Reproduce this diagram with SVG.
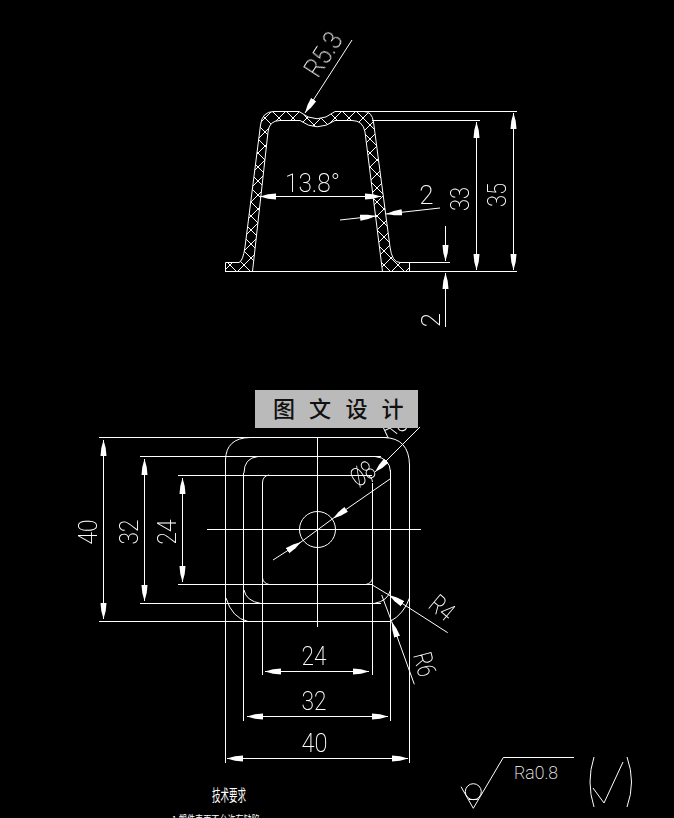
<svg xmlns="http://www.w3.org/2000/svg" width="674" height="818" viewBox="0 0 674 818">
<style>
.l{fill:none;stroke:#fff;stroke-width:1}
.d{fill:none;stroke:#fff;stroke-width:1;marker-end:url(#a);marker-start:url(#a)}
.e{fill:none;stroke:#fff;stroke-width:1;marker-end:url(#a)}
.t{font-family:Roboto,"Liberation Sans",sans-serif;font-weight:200;font-size:26px;fill:#fff;text-anchor:middle}
.s{font-size:18px}
.c{font-family:"Noto Sans CJK SC",sans-serif;fill:#fff}
.w{font-family:"Noto Sans CJK SC",sans-serif;font-size:22px;font-weight:500;fill:#111;text-anchor:middle}
</style>
<defs>
<marker id="a" markerUnits="userSpaceOnUse" markerWidth="18" markerHeight="8" refX="16" refY="4" orient="auto-start-reverse" viewBox="0 0 18 8"><path d="M0,1 L0,7 L8,6.200 L16,4 L8,1.800 Z" fill="#fff"/></marker>
<pattern id="h" patternUnits="userSpaceOnUse" x="286" y="111" width="14" height="14"><path d="M0,0L14,14M14,0L0,14" stroke="#fff" stroke-width="1" fill="none"/></pattern>
</defs>
<rect width="674" height="818" fill="#000"/>
<g id="section">
<path id="section-wall" d="M225.500,271.500 V262.500 H239 Q243,261 245,247 L260.500,125 Q262,111.500 274,111.500 H299 Q317,126 335,111.500 H364 Q372,111.500 373.500,122 L390,247 Q392,262.500 400,262.500 H409.500 V271.500 H382.500 L365,132 Q363,120.500 352,120.500 H335 Q317,133 300,120.500 H280 Q269,120.500 268,132 L252.500,271.500 Z" fill="url(#h)" stroke="#fff" stroke-width="1"/>
</g>
<g id="plan">
<path class="l" d="M225.500,465 V460 Q226,438 250,437.500 M384,437.500 Q409,438 409.500,465 M244,473 Q244,458 258,456.500 M375,456.500 Q390,458 390.500,472 M262.500,483 Q262.500,476 269,475 M366,475 Q372,476 372.500,482 M262.500,578 Q263,583 269,584.500 M372.500,578 Q372,583 366,584.500 M244,590 Q246,601 261,603.500 M390.500,590 Q388,601 374,603.500 M226,598 Q232,618 248,621.500 M409.500,598 Q404,614 390,621.500"/>
<circle class="l" cx="317.500" cy="529.500" r="18"/>
<path class="l" d="M207,529.500 H421 M317.500,438 V627"/>
</g>
<g id="connectors">
<path class="l" d="M225,271.500 H517 M335,111.500 H517 M372,120.500 H480 M409,262.500 H450"/>
<path class="d" d="M513.500,113 V270"/>
<path class="d" d="M476.500,122 V270"/>
<path class="e" d="M445.500,226 V261"/>
<path class="e" d="M445.500,327 V273"/>
<path class="d" d="M260,196.500 H381"/>
<path class="e" d="M340,220 L376,216"/>
<path class="e" d="M440,208 L386,214"/>
<path class="e" d="M352,40 L305,113"/>
<path class="l" d="M99,437.500 H387 M140,456.500 H381 M178,475.500 H372 M178,584.500 H372 M140,603.500 H381 M99,621.500 H390"/>
<path class="l" d="M225.500,465 V763 M243.500,473 V721 M262.500,483 V675 M372.500,483 V675 M390.500,470 V721 M409.500,465 V763"/>
<path class="d" d="M103.500,440 V619"/>
<path class="d" d="M144.500,459 V601"/>
<path class="d" d="M182.500,478 V582"/>
<path class="d" d="M265,671.500 H369"/>
<path class="d" d="M247,716.500 H388"/>
<path class="d" d="M227,758.500 H408"/>
<path class="l" d="M301,542 L333,518.500"/>
<path class="e" d="M390,479 L333,518.500"/>
<path class="e" d="M273,560 L301,542"/>
<path class="e" d="M420,427 L375,472"/>
<path class="e" d="M447.700,632.700 L389,595"/>
<path class="l" d="M389,595 L372.300,585"/>
<path class="e" d="M414.300,684.300 L391.700,621.700"/>
<path class="l" d="M391.700,621.700 L381.700,595"/>
</g>
<g id="labels" opacity="0.999">
<text class="t" transform="translate(318,79) rotate(-57)" style="text-anchor:start" textLength="47" lengthAdjust="spacingAndGlyphs">R5.3</text>
<text class="t" x="312.500" y="192" textLength="55" lengthAdjust="spacingAndGlyphs">13.8°</text>
<text class="t" x="426.500" y="204">2</text>
<text class="t" transform="translate(469,199) rotate(-90)" textLength="24" lengthAdjust="spacingAndGlyphs">33</text>
<text class="t" transform="translate(506,195) rotate(-90)" textLength="24" lengthAdjust="spacingAndGlyphs">35</text>
<text class="t" transform="translate(440,320) rotate(-90)">2</text>
<text class="t" transform="translate(97,532) rotate(-90)" textLength="25" lengthAdjust="spacingAndGlyphs">40</text>
<text class="t" transform="translate(138,532) rotate(-90)" textLength="25" lengthAdjust="spacingAndGlyphs">32</text>
<text class="t" transform="translate(176,532) rotate(-90)" textLength="25" lengthAdjust="spacingAndGlyphs">24</text>
<text class="t" x="314" y="665" textLength="25" lengthAdjust="spacingAndGlyphs">24</text>
<text class="t" x="314" y="710" textLength="25" lengthAdjust="spacingAndGlyphs">32</text>
<text class="t" x="314.500" y="752" textLength="26" lengthAdjust="spacingAndGlyphs">40</text>
<text class="t" transform="translate(427,607) rotate(40)" style="text-anchor:start" textLength="24" lengthAdjust="spacingAndGlyphs">R4</text>
<text class="t" transform="translate(413,655) rotate(75)" style="text-anchor:start" textLength="24" lengthAdjust="spacingAndGlyphs">R6</text>
<text class="t" transform="translate(358,488) rotate(-35)" style="text-anchor:start" textLength="24" lengthAdjust="spacingAndGlyphs">Ø8</text>
<text class="t" transform="translate(386,439) rotate(-25)" style="text-anchor:start" textLength="26" lengthAdjust="spacingAndGlyphs">R8</text>
</g>
<g id="watermark">
<rect x="255" y="390" width="163" height="38" fill="#bababa"/>
<text class="w" x="284" y="417">图</text>
<text class="w" x="320" y="417">文</text>
<text class="w" x="356.500" y="417">设</text>
<text class="w" x="392.500" y="417">计</text>
</g>
<g id="roughness" opacity="0.999">
<path class="l" d="M461,786.700 L473.300,808.300 L503.300,757.500 H574 M469,799.500 H477.700"/>
<circle class="l" cx="473.300" cy="791.700" r="8"/>
<text class="t s" x="536" y="779" textLength="44" lengthAdjust="spacingAndGlyphs">Ra0.8</text>
<path class="l" d="M594,757 Q586,782 594,807 M627,757 Q636,782 627,807 M593,788 L604,803 L623,762"/>
</g>
<g id="notes">
<text class="c" x="229" y="801" font-size="16" text-anchor="middle" textLength="34" lengthAdjust="spacingAndGlyphs">技术要求</text>
<text class="c" x="172" y="824" font-size="11" textLength="88" lengthAdjust="spacingAndGlyphs">1.塑件表面不允许有缺陷</text>
</g>
</svg>
